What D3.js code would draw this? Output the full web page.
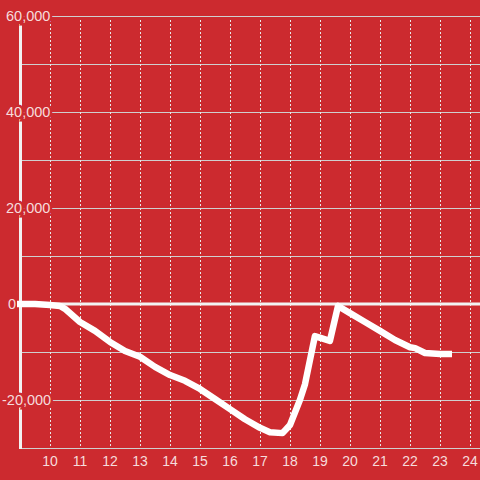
<!DOCTYPE html>
<html><head><meta charset="utf-8">
<script src="https://cdn.jsdelivr.net/npm/d3@7"></script>
<style>
html,body{margin:0;padding:0;background:#cc2a2f;}
svg{display:block;font-family:"Liberation Sans",Arial,sans-serif;}
</style></head>
<body><svg id="c" width="480" height="480"></svg>
<script>
const hours = [8.9, 9.5, 10.0, 10.33, 10.5, 11.0, 11.5, 12.0, 12.5, 13.0, 13.5, 14.0, 14.5, 15.0, 15.5, 16.0, 16.5, 17.0, 17.33, 17.75, 18.0, 18.33, 18.5, 18.83, 19.33, 19.6, 20.0, 20.5, 21.0, 21.5, 22.0, 22.17, 22.5, 23.0, 23.4];
const values = [0, 0, -200, -400, -1000, -3750, -5600, -7900, -9800, -11000, -13100, -14800, -16000, -17700, -19800, -21900, -24000, -25800, -26700, -26900, -25200, -20000, -16700, -6700, -7700, -400, -1900, -3750, -5600, -7500, -9000, -9200, -10200, -10400, -10400];
const xTicks = [10, 11, 12, 13, 14, 15, 16, 17, 18, 19, 20, 21, 22, 23, 24];
const yTicks = [-30000, -20000, -10000, 0, 10000, 20000, 30000, 40000, 50000, 60000];
const yLabelTicks = [-20000, 0, 20000, 40000, 60000];

const bg = "#cc2a2f";
const svg = d3.select("#c");
const x = d3.scaleLinear().domain([9, 24]).range([20, 470]);
const y = d3.scaleLinear().domain([-30000, 60000]).range([448, 16]);

// horizontal gridlines
svg.append("g").selectAll("line").data(yTicks).join("line")
  .attr("x1", 20).attr("x2", 480)
  .attr("y1", d => y(d) + 0.5).attr("y2", d => y(d) + 0.5)
  .attr("stroke", "#cfcfcf").attr("stroke-width", 1);

// vertical dashed gridlines
svg.append("g").selectAll("line").data(xTicks).join("line")
  .attr("x1", d => x(d) + 0.5).attr("x2", d => x(d) + 0.5)
  .attr("y1", 20).attr("y2", 448)
  .attr("stroke", "#e8e8e8").attr("stroke-width", 1)
  .attr("stroke-dasharray", "2,2");

// zero line
svg.append("line").attr("x1", 17).attr("x2", 480)
  .attr("y1", y(0)).attr("y2", y(0))
  .attr("stroke", "#f2f2f2").attr("stroke-width", 3);

// y axis line
svg.append("line").attr("x1", 20.5).attr("x2", 20.5)
  .attr("y1", 24).attr("y2", 449)
  .attr("stroke", "#f2f2f2").attr("stroke-width", 3);

// y labels with background halo
svg.append("g").selectAll("text").data(yLabelTicks).join("text")
  .attr("x", d => d < 0 ? 2 : (d === 0 ? 8 : 6)).attr("y", d => y(d) + 5)
  .attr("text-anchor", "start")
  .attr("font-size", 14.5)
  .attr("fill", "#f6dcdc")
  .attr("stroke", bg).attr("stroke-width", 5)
  .attr("paint-order", "stroke")
  .text(d => d3.format(",")(d).replace("−", "-"));

// x labels
svg.append("g").selectAll("text").data(xTicks).join("text")
  .attr("x", d => x(d)).attr("y", 466)
  .attr("text-anchor", "middle")
  .attr("font-size", 14)
  .attr("fill", "#f6dcdc")
  .text(d => d);

// data line
const line = d3.line().x((d, i) => x(hours[i])).y(d => y(d));
svg.append("path").datum(values)
  .attr("d", line)
  .attr("fill", "none")
  .attr("stroke", "#ffffff")
  .attr("stroke-width", 6.5)
  .attr("stroke-linejoin", "round");
</script>
</body></html>
